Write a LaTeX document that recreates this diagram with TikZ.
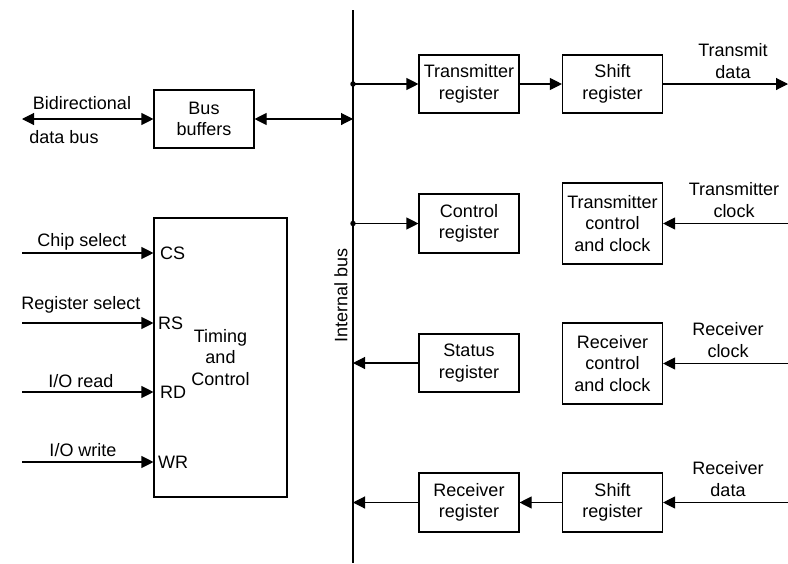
\documentclass[tikz,border=0pt]{standalone}
\usepackage{fontspec}
\setmainfont{Liberation Sans}
\usetikzlibrary{arrows.meta}
\begin{document}
\begin{tikzpicture}[x=1pt,y=-1pt,
  every node/.style={font=\fontsize{18}{21.5}\selectfont},
  blk/.style={draw,line width=1.1pt,align=center,inner sep=0pt,minimum width=100pt},
  lbl/.style={align=center,inner sep=0pt},
  ln/.style={line width=1.1pt},
  arr/.style={ln,-{Triangle[length=12pt,width=12pt]}},
  darr/.style={ln,{Triangle[length=12pt,width=12pt]}-{Triangle[length=12pt,width=12pt]}},
  dot/.style={circle,fill,inner sep=0pt,minimum size=5.5pt}]
\useasboundingbox (0,0) rectangle (788,563);
% bus
\coordinate (bt) at (353,10);
\coordinate (bb) at (353,563);
\draw[ln] (bt) -- (bb);
\node[lbl,rotate=90] (ib) at (341,295) {Internal bus};
% blocks
\node[blk,minimum height=58pt] (buf) at (204,119) {Bus\\buffers};
\node[blk,minimum width=133pt,minimum height=279pt] (tc) at (220.5,357.5) {Timing\\and\\Control};
\node[blk,minimum height=58pt] (txr) at (469,84) {Transmitter\\register};
\node[blk,minimum height=58pt] (txs) at (612.5,84) {Shift\\register};
\node[blk,minimum height=59pt] (ctl) at (469,223.5) {Control\\register};
\node[blk,minimum height=81pt] (txc) at (612.5,223.5) {Transmitter\\control\\and clock};
\node[blk,minimum height=58pt] (st) at (469,363) {Status\\register};
\node[blk,minimum height=81pt] (rxc) at (612.5,363.5) {Receiver\\control\\and clock};
\node[blk,minimum height=59pt] (rxr) at (469,502.5) {Receiver\\register};
\node[blk,minimum height=59pt] (rxs) at (612.5,502.5) {Shift\\register};
% bus taps
\node[dot] (d1) at (353,84) {};
\node[dot] (d2) at (353,223.5) {};
\coordinate (b3) at (353,363);
\coordinate (b4) at (353,502.5);
\coordinate (b0) at (353,119);
% external ends
\coordinate (lbus) at (22,119);
\coordinate (txo) at (788,84);
\coordinate (txci) at (788,223.5);
\coordinate (rxci) at (788,363.5);
\coordinate (rxdi) at (788,502.5);
\coordinate (csi) at (22,253);
\coordinate (rsi) at (22,323);
\coordinate (rdi) at (22,392);
\coordinate (wri) at (22,462);
% connectors
\draw[darr] (lbus) -- (buf.west);
\draw[darr] (buf.east) -- (b0);
\draw[arr] (d1.center) -- (txr.west);
\draw[arr] (txr.east) -- (txs.west);
\draw[arr] (txs.east) -- (txo);
\draw[arr] (d2.center) -- (ctl.west);
\draw[arr] (txci) -- (txc.east);
\draw[arr] (st.west) -- (b3);
\draw[arr] (rxci) -- (rxc.east);
\draw[arr] (rxs.west) -- (rxr.east);
\draw[arr] (rxr.west) -- (b4);
\draw[arr] (rxdi) -- (rxs.east);
\draw[arr] (csi) -- (csi -| tc.west);
\draw[arr] (rsi) -- (rsi -| tc.west);
\draw[arr] (rdi) -- (rdi -| tc.west);
\draw[arr] (wri) -- (wri -| tc.west);
% pin labels
\node[lbl,anchor=west] (pcs) at (160,253) {CS};
\node[lbl,anchor=west] (prs) at (158,323) {RS};
\node[lbl,anchor=west] (prd) at (160,392) {RD};
\node[lbl,anchor=west] (pwr) at (158,462) {WR};
% signal labels
\node[lbl] (t1) at (82,103) {Bidirectional};
\node[lbl] (t2) at (64,137) {data bus};
\node[lbl] (t3) at (82,242) {Chip select};
\node[lbl] (t4) at (81,305) {Register select};
\node[lbl] (t5) at (81,381) {I/O read};
\node[lbl] (t6) at (83,450) {I/O write};
\node[lbl] (t7) at (733,61) {Transmit\\data};
\node[lbl] (t8) at (734,200) {Transmitter\\clock};
\node[lbl] (t9) at (728,340) {Receiver\\clock};
\node[lbl] (t10) at (728,479) {Receiver\\data};
\end{tikzpicture}
\end{document}
